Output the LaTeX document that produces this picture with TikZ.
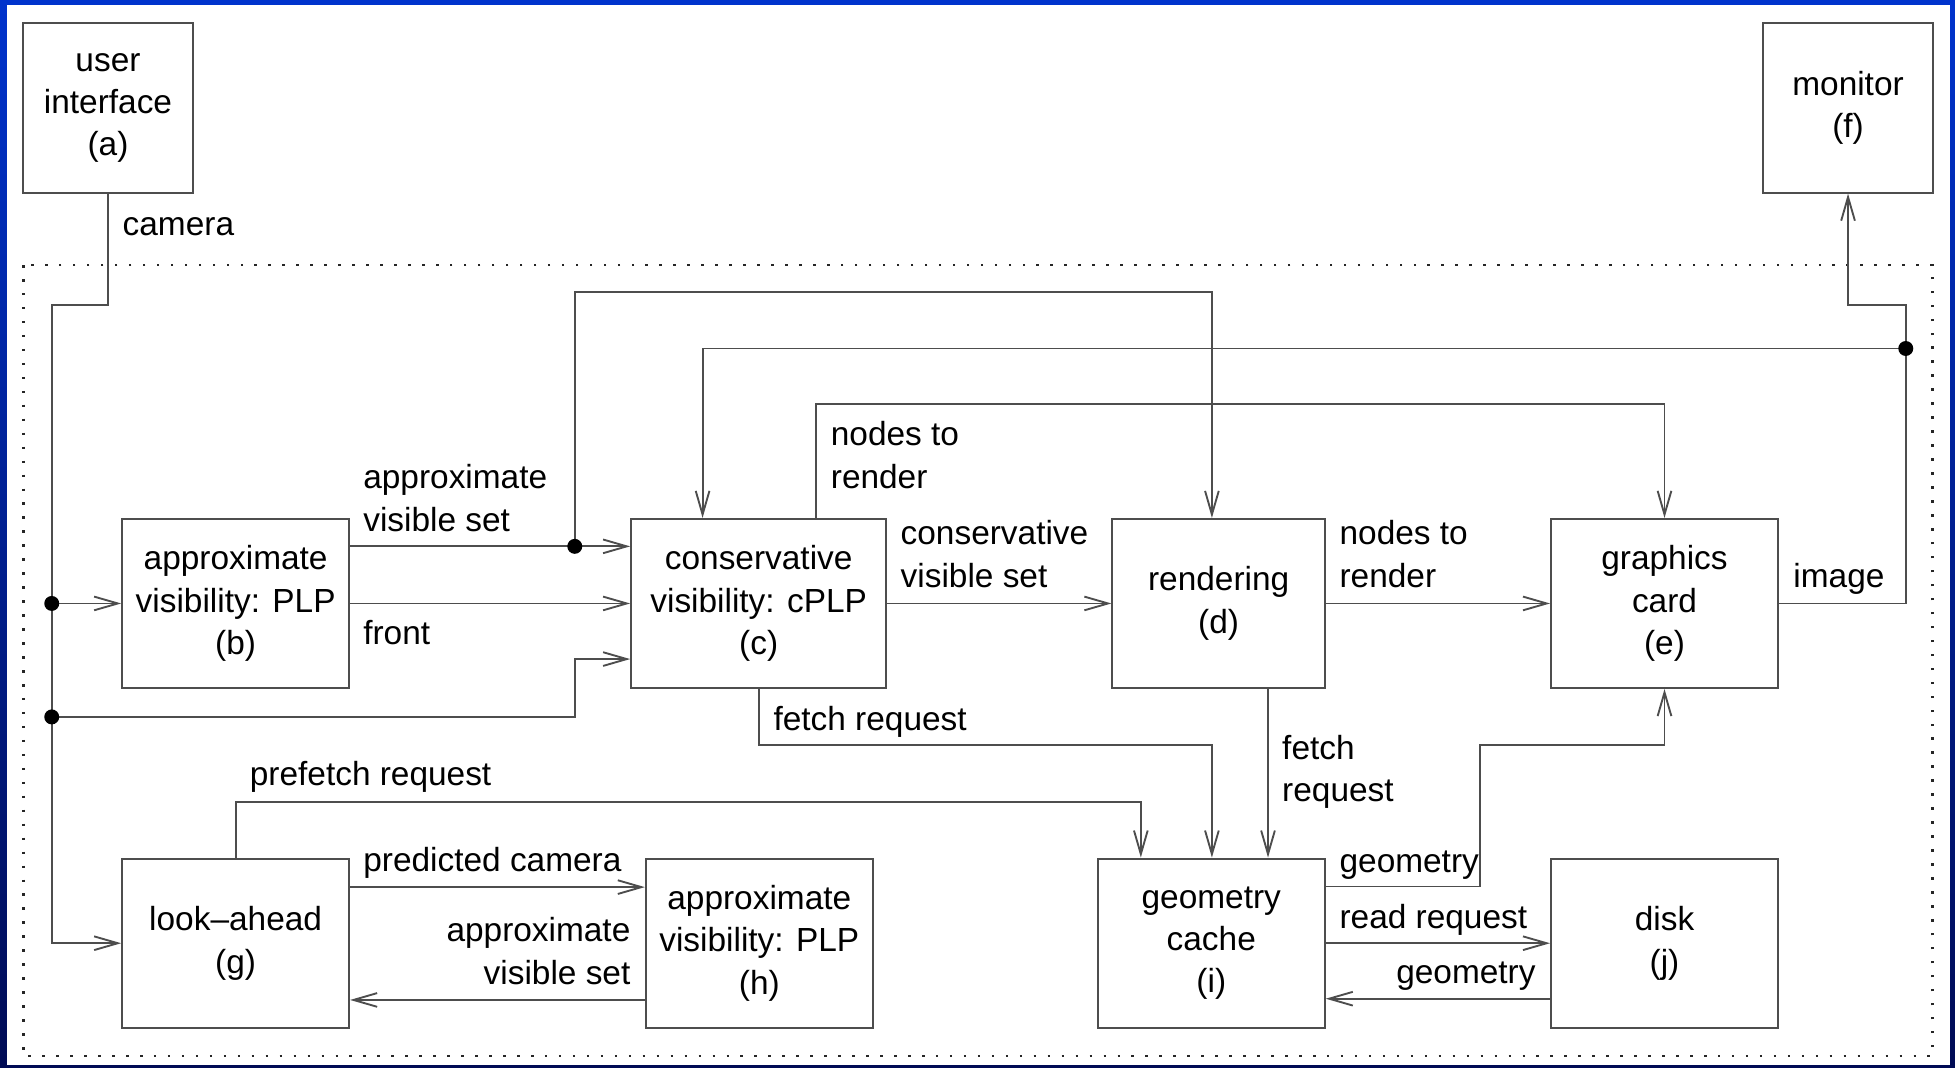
\documentclass[tikz,border=0pt]{standalone}
\usepackage{fontspec}
\setmainfont{Liberation Sans}
\usetikzlibrary{arrows.meta}
\definecolor{linegray}{HTML}{4D4D4D}
\definecolor{edgeblue}{HTML}{0033CC}
\definecolor{edgenavy}{HTML}{000B55}

\begin{document}
\begin{tikzpicture}[x=0.5pt,y=-0.5pt,
  every node/.style={font=\fontsize{13.4}{17}\selectfont},
  blk/.style={draw=linegray, line width=0.8pt, inner sep=0pt, align=center},
  wire/.style={draw=linegray, line width=0.75pt},
  arr/.style={wire, -{Straight Barb[length=9.5pt,width=5.5pt]}},
  lbl/.style={inner sep=0pt, anchor=base west, align=left},
  lblr/.style={inner sep=0pt, anchor=base east, align=right},
  dotframe/.style={draw=black!85, line width=1pt, dash pattern=on 1pt off 4.6pt}
]
% page and coloured edge
\useasboundingbox (0,0) rectangle (1568,856);
\shade[top color=edgeblue, bottom color=edgenavy] (0,0) rectangle (1568,856);
\fill[white] (5.5,4) rectangle (1564,854);

% system boundary
\draw[dotframe] (18.7,212.6) rectangle (1550,847);

% blocks
\node[blk, minimum width=68.4pt, minimum height=67.9pt] (a) at (86.6,86.6) {user\\interface\\(a)};
\node[blk, minimum width=68.2pt, minimum height=67.9pt] (f) at (1482.2,86.6) {monitor\\(f)};
\node[blk, minimum width=91pt, minimum height=67.8pt] (b) at (189,484) {approximate\\visibility: PLP\\(b)};
\node[blk, minimum width=102.3pt, minimum height=67.8pt] (c) at (608.5,484) {conservative\\visibility: cPLP\\(c)};
\node[blk, minimum width=85.2pt, minimum height=67.8pt] (d) at (977.4,484) {rendering\\(d)};
\node[blk, minimum width=91pt, minimum height=67.8pt] (e) at (1335,484) {graphics\\card\\(e)};
\node[blk, minimum width=91pt, minimum height=67.9pt] (g) at (189,756.5) {look--ahead\\(g)};
\node[blk, minimum width=91pt, minimum height=67.9pt] (h) at (609,756.5) {approximate\\visibility: PLP\\(h)};
\node[blk, minimum width=91pt, minimum height=67.9pt] (i) at (971.5,756.5) {geometry\\cache\\(i)};
\node[blk, minimum width=91pt, minimum height=67.9pt] (j) at (1335,756.5) {disk\\(j)};

% routing points
\coordinate (camjog) at (41.5,244.6);
\coordinate (busb) at (41.5,484);
\coordinate (busc) at (41.5,575);
\coordinate (jogc) at (461,528.6);
\coordinate (avs) at (461,438.2);
\coordinate (topd) at (972,234);
\coordinate (ntr) at (654.5,324);
\coordinate (imgjog) at (1528.5,244.6);
\coordinate (imgdot) at (1528.5,279.5);
\coordinate (cin) at (563.5,279.5);
\coordinate (fr) at (972,597.6);
\coordinate (dfr) at (1017,600);
\coordinate (pf) at (915,643);
\coordinate (pcam) at (400,711.5);
\coordinate (avs2) at (400,802);
\coordinate (geo) at (1187,711);
\coordinate (geo2) at (1335,597.6);
\coordinate (gj) at (1150,801);

% camera distribution
\draw[arr] (a.south) |- (camjog) |- (g.west);
\draw[arr] (busb) -- (b.west);
\draw[arr] (busc) -| (jogc) -- (jogc -| c.west);

% visibility stages
\draw[arr] (b.east |- avs) -- (c.west |- avs);
\draw[arr] (avs) |- (topd) -- (topd |- d.north);
\draw[arr] (b.east) -- (c.west);
\draw[arr] (c.east) -- (d.west);
\draw[arr] (d.east) -- (e.west);
\draw[arr] (ntr |- c.north) -- (ntr) -| (e.north);

% image output and feedback
\draw[arr] (e.east) -| (imgjog) -| (f.south);
\draw[arr] (imgdot) -- (cin) -- (cin |- c.north);

% geometry requests
\draw[arr] (c.south) |- (fr) -- (fr |- i.north);
\draw[arr] (dfr |- d.south) -- (dfr |- i.north);
\draw[arr] (g.north) |- (pf) -- (pf |- i.north);

% look-ahead loop
\draw[arr] (g.east |- pcam) -- (h.west |- pcam);
\draw[arr] (h.west |- avs2) -- (g.east |- avs2);

% cache, card and disk
\draw[arr] (i.east |- geo) -- (geo) |- (geo2) -- (e.south);
\draw[arr] (i.east) -- (j.west);
\draw[arr] (j.west |- gj) -- (i.east |- gj);

% junction dots
\foreach \p in {busb,busc,avs,imgdot} \fill (\p) circle (3pt);

% connector labels (multi-line labels sit on their last baseline)
\node[lbl] (lcam) at (98,188.5) {camera};
\node[lbl] (lavs) at (291,426) {approximate\\visible set};
\node[lbl] (lfront) at (291,517) {front};
\node[lbl] (lntr) at (666,391.5) {nodes to\\render};
\node[lbl] (lcvs) at (722,471) {conservative\\visible set};
\node[lbl] (lntr2) at (1074,471) {nodes to\\render};
\node[lbl] (limg) at (1438,471) {image};
\node[lbl] (lfr) at (620,586) {fetch request};
\node[lbl] (lfr2) at (1028,643) {fetch\\request};
\node[lbl] (lpf) at (200,630) {prefetch request};
\node[lbl] (lpc) at (291,699) {predicted camera};
\node[lblr] (lavs2) at (506,789.5) {approximate\\visible set};
\node[lbl] (lgeo) at (1074,700) {geometry};
\node[lbl] (lread) at (1074,745) {read request};
\node[lblr] (lgeo2) at (1232,789) {geometry};
\end{tikzpicture}
\end{document}
